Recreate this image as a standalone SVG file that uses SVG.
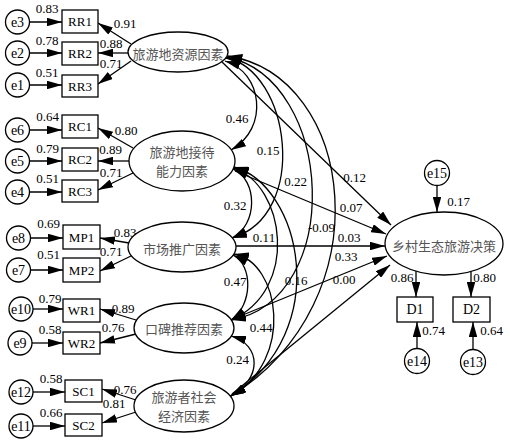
<svg xmlns="http://www.w3.org/2000/svg" width="510" height="441" viewBox="0 0 510 441">
<style>
.bx{fill:#fff;stroke:#000;stroke-width:1.3}
.lat{fill:#fff;stroke:#000;stroke-width:1.3}
.ec{fill:#fff;stroke:#000;stroke-width:1.3}
.n{font-family:"Liberation Serif",serif;font-size:13px;fill:#000;text-anchor:middle}
.t{font-family:"Liberation Serif",serif;font-size:13px;fill:#000;text-anchor:middle;dominant-baseline:central}
.e{font-family:"Liberation Serif",serif;font-size:14px;fill:#000;text-anchor:middle;dominant-baseline:central}
.zh{font-family:"Noto Sans CJK SC",sans-serif;font-size:13px;fill:#555;text-anchor:middle;dominant-baseline:central}
.a{stroke:#000;stroke-width:1.3;fill:none;marker-end:url(#ah)}
.c{stroke:#000;stroke-width:1.3;fill:none;marker-start:url(#ah);marker-end:url(#ah)}
</style>
<defs>
<marker id="ah" viewBox="0 0 15 8.5" refX="15" refY="4.25" markerWidth="15" markerHeight="8.5" markerUnits="userSpaceOnUse" orient="auto-start-reverse"><path d="M0,0 L15,4.25 L0,8.5 z" fill="#000"/></marker>
</defs>

<g id="connectors">
<path class="a" d="M29.5,22 H62"/>
<path class="a" d="M29.5,53 H62"/>
<path class="a" d="M29.5,85 H62"/>
<path class="a" d="M29.5,130 H62"/>
<path class="a" d="M29.5,161 H62"/>
<path class="a" d="M29.5,192 H62"/>
<path class="a" d="M30.5,238 H63"/>
<path class="a" d="M30.5,270 H63"/>
<path class="a" d="M33,309 H63"/>
<path class="a" d="M32,343 H63"/>
<path class="a" d="M33,392 H65"/>
<path class="a" d="M33,426 H65"/>
<path class="a" d="M131,44 L98,23"/>
<path class="a" d="M128,53 L98,53"/>
<path class="a" d="M131,61 L98,84"/>
<path class="a" d="M133,148 L98,128"/>
<path class="a" d="M129,161 L98,161"/>
<path class="a" d="M133,173 L98,190"/>
<path class="a" d="M129,243 L100,238"/>
<path class="a" d="M131,256 L100,271"/>
<path class="a" d="M136,320 L100,309"/>
<path class="a" d="M136,334 L100,343"/>
<path class="a" d="M136,400 L102,389"/>
<path class="a" d="M136,412 L102,423"/>
<path class="a" d="M222,62 L391,225"/>
<path class="a" d="M235,171 L386,234"/>
<path class="a" d="M236,246 L385,246"/>
<path class="a" d="M233,319 L387,256"/>
<path class="a" d="M232,394 L390,265"/>
<path class="c" d="M225,61 C262,72 270,128 231,150"/>
<path class="c" d="M226,58 C290,70 310,215 232,238"/>
<path class="c" d="M227,57 C335,80 345,300 231,320"/>
<path class="c" d="M227.5,56 C355,75 385,300 231,396"/>
<path class="c" d="M233,169 C258,180 258,225 232,238"/>
<path class="c" d="M233.5,168 C285,185 300,290 231,320"/>
<path class="c" d="M234,167 C300,185 335,330 231,396"/>
<path class="c" d="M233,255 C253,265 253,305 231,320"/>
<path class="c" d="M234,254 C280,262 295,360 231,396"/>
<path class="c" d="M231,336 C262,345 262,380 230,396"/>
<path class="a" d="M437,185.5 V212"/>
<path class="a" d="M416,271 V297"/>
<path class="a" d="M471,271 V297"/>
<path class="a" d="M417,348.5 V322"/>
<path class="a" d="M473,349.5 V322"/>
</g>

<g id="labels">
<text class="n" x="47" y="12.5">0.83</text>
<text class="n" x="47" y="44.5">0.78</text>
<text class="n" x="47" y="77">0.51</text>
<text class="n" x="47.5" y="121">0.64</text>
<text class="n" x="47.5" y="153">0.79</text>
<text class="n" x="47.5" y="183">0.51</text>
<text class="n" x="48.5" y="228">0.69</text>
<text class="n" x="48.5" y="259">0.51</text>
<text class="n" x="50" y="303">0.79</text>
<text class="n" x="50" y="334">0.58</text>
<text class="n" x="51" y="383">0.58</text>
<text class="n" x="51" y="417">0.66</text>
<text class="n" x="125" y="28">0.91</text>
<text class="n" x="111" y="48">0.88</text>
<text class="n" x="111" y="68">0.71</text>
<text class="n" x="126" y="135">0.80</text>
<text class="n" x="110.5" y="154">0.89</text>
<text class="n" x="111" y="177">0.71</text>
<text class="n" x="125" y="237">0.83</text>
<text class="n" x="111" y="256">0.71</text>
<text class="n" x="123" y="313">0.89</text>
<text class="n" x="113" y="332">0.76</text>
<text class="n" x="125" y="394">0.76</text>
<text class="n" x="114" y="408">0.81</text>
<text class="n" x="237" y="123">0.46</text>
<text class="n" x="268" y="155">0.15</text>
<text class="n" x="295.5" y="186">0.22</text>
<text class="n" x="321.5" y="232">-0.09</text>
<text class="n" x="235" y="210">0.32</text>
<text class="n" x="264" y="242">0.11</text>
<text class="n" x="296" y="285">0.16</text>
<text class="n" x="235" y="286">0.47</text>
<text class="n" x="261" y="332">0.44</text>
<text class="n" x="237.5" y="364">0.24</text>
<text class="n" x="354.5" y="182">0.12</text>
<text class="n" x="351" y="212">0.07</text>
<text class="n" x="349" y="242">0.03</text>
<text class="n" x="346" y="261">0.33</text>
<text class="n" x="344" y="284">0.00</text>
<text class="n" x="458.5" y="206">0.17</text>
<text class="n" x="402" y="282">0.86</text>
<text class="n" x="484.5" y="282">0.80</text>
<text class="n" x="433.5" y="335">0.74</text>
<text class="n" x="491.5" y="335">0.64</text>
</g>

<g id="e3"><circle class="ec" cx="17.5" cy="22" r="12"/><text class="e" x="17.5" y="22">e3</text></g>
<g id="e2"><circle class="ec" cx="17.5" cy="53" r="12"/><text class="e" x="17.5" y="53">e2</text></g>
<g id="e1"><circle class="ec" cx="17.5" cy="85" r="12"/><text class="e" x="17.5" y="85">e1</text></g>
<g id="e6"><circle class="ec" cx="17.5" cy="130" r="12"/><text class="e" x="17.5" y="130">e6</text></g>
<g id="e5"><circle class="ec" cx="17.5" cy="161" r="12"/><text class="e" x="17.5" y="161">e5</text></g>
<g id="e4"><circle class="ec" cx="17.5" cy="192" r="12"/><text class="e" x="17.5" y="192">e4</text></g>
<g id="e8"><circle class="ec" cx="18.5" cy="238" r="12"/><text class="e" x="18.5" y="238">e8</text></g>
<g id="e7"><circle class="ec" cx="18.5" cy="270" r="12"/><text class="e" x="18.5" y="270">e7</text></g>
<g id="e10"><circle class="ec" cx="21" cy="309" r="12"/><text class="e" x="21" y="309">e10</text></g>
<g id="e9"><circle class="ec" cx="20" cy="343" r="12"/><text class="e" x="20" y="343">e9</text></g>
<g id="e12"><circle class="ec" cx="21" cy="392" r="12"/><text class="e" x="21" y="392">e12</text></g>
<g id="e11"><circle class="ec" cx="21" cy="426" r="12"/><text class="e" x="21" y="426">e11</text></g>
<g id="e15"><circle class="ec" cx="437" cy="173" r="12.5"/><text class="e" x="437" y="173">e15</text></g>
<g id="e14"><circle class="ec" cx="417" cy="361" r="12.5"/><text class="e" x="417" y="361">e14</text></g>
<g id="e13"><circle class="ec" cx="473" cy="362" r="12.5"/><text class="e" x="473" y="362">e13</text></g>

<g id="RR1"><rect class="bx" x="62" y="10" width="36" height="23"/><text class="t" x="80" y="21.5">RR1</text></g>
<g id="RR2"><rect class="bx" x="62" y="42" width="36" height="23"/><text class="t" x="80" y="53.5">RR2</text></g>
<g id="RR3"><rect class="bx" x="62" y="75" width="36" height="22"/><text class="t" x="80" y="86">RR3</text></g>
<g id="RC1"><rect class="bx" x="62" y="115" width="36" height="23"/><text class="t" x="80" y="126.5">RC1</text></g>
<g id="RC2"><rect class="bx" x="62" y="148" width="36" height="23"/><text class="t" x="80" y="159.5">RC2</text></g>
<g id="RC3"><rect class="bx" x="62" y="180" width="36" height="22"/><text class="t" x="80" y="191">RC3</text></g>
<g id="MP1"><rect class="bx" x="63" y="225" width="37" height="24"/><text class="t" x="81.5" y="237">MP1</text></g>
<g id="MP2"><rect class="bx" x="63" y="258" width="37" height="24"/><text class="t" x="81.5" y="270">MP2</text></g>
<g id="WR1"><rect class="bx" x="63" y="299" width="37" height="23"/><text class="t" x="81.5" y="310.5">WR1</text></g>
<g id="WR2"><rect class="bx" x="63" y="332" width="37" height="22"/><text class="t" x="81.5" y="343">WR2</text></g>
<g id="SC1"><rect class="bx" x="65" y="380" width="37" height="22"/><text class="t" x="83.5" y="391">SC1</text></g>
<g id="SC2"><rect class="bx" x="65" y="414" width="37" height="22"/><text class="t" x="83.5" y="425">SC2</text></g>
<g id="D1"><rect class="bx" x="397" y="297" width="36" height="25"/><text class="e" x="415" y="309.5">D1</text></g>
<g id="D2"><rect class="bx" x="453" y="297" width="37" height="25"/><text class="e" x="471.5" y="309.5">D2</text></g>

<g id="F1"><ellipse class="lat" cx="178" cy="52" rx="50" ry="20"/><text class="zh" x="178" y="53">旅游地资源因素</text></g>
<g id="F2"><ellipse class="lat" cx="182" cy="161" rx="53" ry="30"/><text class="zh" x="182" y="151.5">旅游地接待</text><text class="zh" x="182" y="170.5">能力因素</text></g>
<g id="F3"><ellipse class="lat" cx="182" cy="247" rx="54" ry="25"/><text class="zh" x="182" y="248">市场推广因素</text></g>
<g id="F4"><ellipse class="lat" cx="184" cy="328" rx="50" ry="25"/><text class="zh" x="184" y="328">口碑推荐因素</text></g>
<g id="F5"><ellipse class="lat" cx="184" cy="406" rx="50" ry="26"/><text class="zh" x="184" y="396">旅游者社会</text><text class="zh" x="184" y="415">经济因素</text></g>
<g id="Y"><ellipse class="lat" cx="444" cy="243.5" rx="59" ry="31.5"/><text class="zh" x="444" y="245">乡村生态旅游决策</text></g>
</svg>
